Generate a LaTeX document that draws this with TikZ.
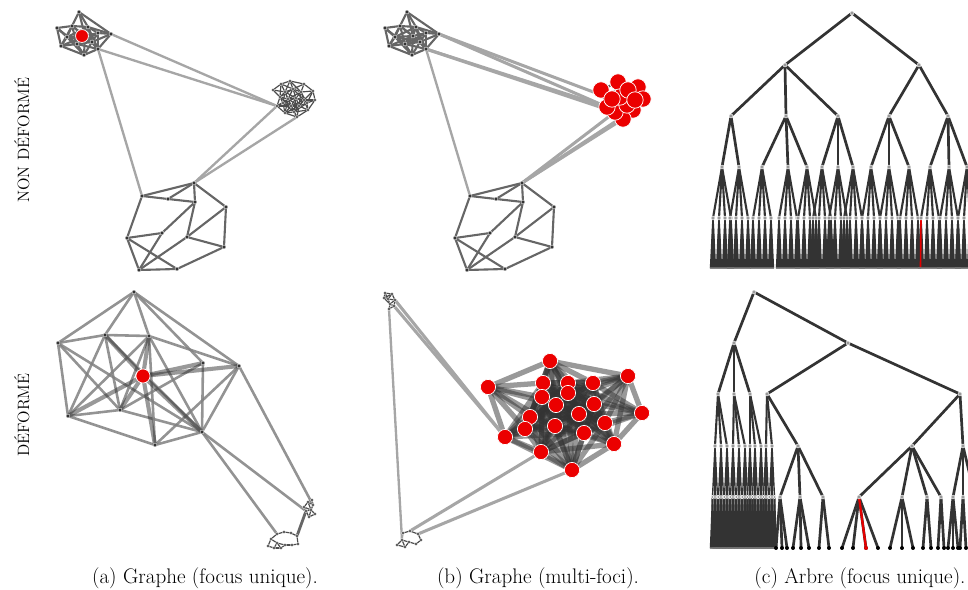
\documentclass[tikz,border=0pt]{standalone}
\usepackage{fontspec}
\usetikzlibrary{calc}

% sommets des grappes (indice/x/y, en pixels)
\def\listeA{1/79/12,2/57/28,3/61/46,4/84/55,5/98/49,6/111/34,7/72/26,8/88/27,9/98/33,10/67/37,11/77/44,12/92/42,13/85/36}
\def\listeB{1/273/90,2/281/84,3/290/81,4/304/84,5/313/91,6/315/100,7/308/110,8/297/117,9/285/113,10/277/106,11/285/92,12/293/89,13/301/92,14/288/99,15/296/98,16/304/100,17/283/103,18/291/106,19/299/106,20/307/103,21/294/112,22/280/97}
\def\listeC{1/142/196,2/168/199,3/194/183,4/195/202,5/226/207,6/162/233,7/187/237,8/127/238,9/224/247,10/139/270,11/177/269}
\def\listeD{1/134/292,2/58/343,3/105/335,4/149/336,5/203/363,6/239/366,7/143/376,8/68/416,9/120/410,10/155/445,11/202/432}
\def\listeF{1/601/90,2/618/82,3/638/87,4/643/99,5/633/110,6/623/119,7/615/112,8/607/107,9/627/105,10/620/97,11/628/90,12/612/99,13/635/100}
\def\listeEa{1/308/502,2/313/505,3/311/510,4/306/511,5/315/514,6/309/517,7/304/507,8/312/500}
\def\listeEb{1/277/534,2/284/532,3/291/533,4/297/536,5/271/539,6/277/543,7/285/545,8/292/545,9/268/546,10/281/548,11/298/544,12/274/548}
\def\listeFa{1/385/293,2/392/294,3/388/299,4/395/300,5/390/304,6/384/298,7/394/306,8/389/309}
\def\listeFb{1/403/533,2/410/531,3/418/534,4/402/540,5/409/542,6/416/544,7/405/547,8/421/540,9/397/545}
\def\listeM{1/550/361,2/488/387,3/628/376,4/543/383,5/568/383,6/593/383,7/568/393,8/542/397,9/556/405,10/594/404,11/530/417,12/579/414,13/642/413,14/525/429,15/555/426,16/605/423,17/505/437,18/584/433,19/614/444,20/541/452,21/572/470}

% relie deux sommets d'une liste quand ils sont proches
\newcommand{\relier}[4]{%
  \foreach \i/\xa/\ya in #2{%
    \foreach \j/\xb/\yb in #2{%
      \pgfmathtruncatemacro\proche{(\i<\j)&&(veclen(\xa-\xb,\ya-\yb)<#3)}%
      \ifnum\proche=1 \draw[#4] (#1\i) -- (#1\j);\fi
    }%
  }%
}

% les deux grappes communes aux graphes (a) et (b)
\newcommand{\grappesAC}{%
  \foreach \i/\x/\y in \listeA \coordinate (a\i) at (\x,\y);
  \foreach \i/\x/\y in \listeC \coordinate (c\i) at (\x,\y);
  \relier{a}{\listeA}{26}{arete}
  \draw[arete] (a1) -- (a6);
  \foreach \i/\j in {1/2,1/3,1/8,2/3,2/4,3/4,3/5,4/6,4/7,5/7,5/9,7/9,9/11,10/11,8/6,8/10,8/11,6/10,7/10}
    \draw[arete] (c\i) -- (c\j);
  \draw[pont] (a5) -- (c1);
}
\newcommand{\sommetsAC}{%
  \foreach \i/\x/\y in \listeA \node[sommet] at (a\i) {};
  \foreach \i/\x/\y in \listeC \node[sommet] at (c\i) {};
}

\begin{document}
\begin{tikzpicture}[x=0.03cm,y=-0.03cm,
  sommet/.style={circle,fill=black!80,draw=white,line width=0.3pt,inner sep=0pt,minimum size=3.4pt},
  petit/.style={sommet,minimum size=2.8pt},
  sommetgris/.style={circle,fill=black!40,draw=white,line width=0.4pt,inner sep=0pt,minimum size=3.4pt},
  feuille/.style={circle,fill=black,inner sep=0pt,minimum size=3.4pt},
  miette/.style={circle,fill=black!55,inner sep=0pt,minimum size=1.6pt},
  focus/.style={circle,fill=red!92!black,draw=white,line width=0.6pt,inner sep=0pt,minimum size=#1},
  focus/.default=12pt,
  arete/.style={black!60,line width=1.8pt},
  arete fine/.style={black!70,line width=1pt},
  pont/.style={black!35,line width=2pt},
  lien/.style={black!50,line width=2.2pt,opacity=0.85},
  lien focus/.style={black!80,line width=#1,opacity=0.5},
  branche/.style={black!80,line width=2.3pt},
  branche fine/.style={black!80,line width=1.2pt},
  titre/.style={font=\fontsize{18}{21}\selectfont},
  rangee/.style={rotate=90,font=\fontsize{14}{16}\selectfont\addfontfeature{LetterSpace=45}}]

\useasboundingbox (0,0) rectangle (968,590);

% ---------------- (a) graphe non deforme ----------------
\begin{scope}[name prefix=ga-]
\grappesAC
\foreach \i/\x/\y in \listeB \coordinate (b\i) at (\x,\y);
\relier{b}{\listeB}{16}{arete fine}
\draw[pont] (a6) -- (b10);
\draw[pont] (a5) -- (b10);
\draw[pont] (b10) -- (c3);
\draw[pont] (b8) -- (c3);
\sommetsAC
\foreach \i/\x/\y in \listeB \node[petit] at (b\i) {};
\node[focus=11pt] (a0) at (82,36) {};
\end{scope}

% ---------------- (b) graphe non deforme ----------------
\begin{scope}[name prefix=gb-,shift={(328,0)}]
\grappesAC
\end{scope}
\foreach \i/\x/\y in \listeF \coordinate (f\i) at (\x,\y);
\relier{f}{\listeF}{25}{arete}
\foreach \a/\f in {6/8,6/12,5/8,5/7} \draw[pont,line width=2.6pt] (gb-a\a) -- (f\f);
\foreach \f in {5,6,7} \draw[pont,line width=2.6pt] (gb-c3) -- (f\f);
\begin{scope}[name prefix=gb-]
\sommetsAC
\end{scope}
\foreach \i/\x/\y in \listeF \node[focus=14pt] (rf\i) at (f\i) {};

% ---------------- (a) graphe deforme ----------------
\foreach \i/\x/\y in \listeD \coordinate (d\i) at (\x,\y);
\foreach \i/\x/\y in \listeEa \coordinate (ea\i) at (\x,\y);
\foreach \i/\x/\y in \listeEb \coordinate (eb\i) at (\x,\y);
\foreach \i/\j in {1/2,1/3,1/4,1/5,1/6,2/3,2/8,2/9,2/11,3/4,3/8,3/9,3/11,4/6,4/8,4/9,4/10,4/11,5/9,5/11,6/10,6/11,8/9,8/10,9/11,10/11}
  \draw[lien] (d\i) -- (d\j);
\foreach \j in {3,4,5,6,8,9,10,11} \draw[lien focus=3.5pt] (d7) -- (d\j);
\relier{ea}{\listeEa}{9}{arete fine}
\relier{eb}{\listeEb}{9}{arete fine}
\draw[arete,line width=2.4pt] (ea4) -- (eb4);
\draw[lien] (d6) -- (ea2);
\draw[lien] (d11) -- (ea4);
\draw[lien] (d11) -- (eb1);
\foreach \i in {1,2,3,4,5,6,8,9,10,11} \node[sommet] at (d\i) {};
\foreach \i/\x/\y in \listeEa \node[petit] at (ea\i) {};
\foreach \i/\x/\y in \listeEb \node[petit] at (eb\i) {};
\node[focus=12pt] (rd) at (d7) {};

% ---------------- (b) graphe deforme ----------------
\foreach \i/\x/\y in \listeFa \coordinate (fa\i) at (\x,\y);
\foreach \i/\x/\y in \listeFb \coordinate (fb\i) at (\x,\y);
\foreach \i/\x/\y in \listeM \coordinate (m\i) at (\x,\y);
\relier{fa}{\listeFa}{9}{arete fine}
\relier{fb}{\listeFb}{9}{arete fine}
\relier{m}{\listeM}{80}{lien focus=4.5pt}
\draw[pont,line width=2.6pt] (fa4) -- (m17);
\draw[pont,line width=2.6pt] (fa7) -- (m17);
\draw[pont] (fa8) -- (fb4);
\draw[pont,line width=2.6pt] (fb2) -- (m20);
\draw[pont,line width=2.6pt] (fb3) -- (m21);
\foreach \i/\x/\y in \listeFa \node[petit] at (fa\i) {};
\foreach \i/\x/\y in \listeFb \node[petit] at (fb\i) {};
\foreach \i/\x/\y in \listeM \node[focus=13pt] (rm\i) at (m\i) {};

% ---------------- (c) arbre non deforme ----------------
\begin{scope}
\clip (690,0) rectangle (968,285);
\coordinate (h) at (852,13);
\foreach \k/\x in {1/785,2/919} {
  \coordinate (h\k) at (\x,65);
  \draw[branche] (h) -- (h\k);
}
\foreach \k/\x/\p in {1/731/1,2/786/1,3/838/1,4/889/2,5/948/2} {
  \coordinate (hh\k) at (\x,116);
  \draw[branche] (h\p) -- (hh\k);
}
\foreach \k/\x/\p in {1/722/1,2/739/1,3/762/2,4/788/2,5/807/2,6/822/3,7/838/3,8/853/3,9/871/4,10/889/4,11/909/4,12/930/5,13/949/5,14/967/5} {
  \coordinate (hhh\k) at (\x,167);
  \draw[branche] (hh\p) -- (hhh\k);
  \foreach \m/\d in {1/-9,2/-3,3/3,4/9} {
    \pgfmathsetmacro\xx{\x+\d}
    \coordinate (h4-\k-\m) at (\xx,218);
    \draw[branche,line width=1.8pt] (hhh\k) -- (h4-\k-\m);
    \foreach \n/\e in {1/-2.5,2/-1.5,3/-0.5,4/0.5,5/1.5,6/2.5} {
      \coordinate (h5-\k-\m-\n) at (\xx+\e,268);
      \draw[branche fine] (h4-\k-\m) -- (h5-\k-\m-\n);
    }
  }
}
\draw[red!90!black,line width=1.4pt] (h4-12-1) -- (h5-12-1-3);
% sommets
\foreach \k in {1,...,14} {
  \foreach \m in {1,...,4} {
    \foreach \n in {1,...,6} \node[miette] at (h5-\k-\m-\n) {};
    \node[sommetgris] at (h4-\k-\m) {};
  }
  \node[sommetgris] at (hhh\k) {};
}
\foreach \k in {1,...,5} \node[sommetgris] at (hh\k) {};
\node[sommetgris] (hroot) at (h) {};
\node[sommetgris] at (h1) {};
\node[sommetgris] at (h2) {};
\end{scope}

% ---------------- (c) arbre deforme ----------------
\begin{scope}
\clip (690,285) rectangle (968,560);
\coordinate (g) at (754,292);
\foreach \k/\x in {1/734,2/848} {
  \coordinate (g\k) at (\x,343);
  \draw[branche] (g) -- (g\k);
}
\foreach \k/\x/\p in {1/718/1,2/734/1,3/750/1,4/767/2,5/960/2} {
  \coordinate (gg\k) at (\x,394);
  \draw[branche] (g\p) -- (gg\k);
}
% partie dense a gauche
\foreach \k/\x/\p in {1/715/1,2/721/1,3/727/1,4/733/2,5/739/2,6/745/2,7/750/3,8/755/3,9/761/3,10/766/4,11/772/4} {
  \coordinate (ggg\k) at (\x,446);
  \draw[branche,line width=1.8pt] (gg\p) -- (ggg\k);
  \foreach \m/\d in {1/-2.5,2/0,3/2.5} {
    \pgfmathsetmacro\xx{\x+\d}
    \coordinate (g4-\k-\m) at (\xx,497);
    \draw[branche fine] (ggg\k) -- (g4-\k-\m);
    \foreach \n/\e in {1/-2,2/-1,3/0,4/1,5/2} {
      \coordinate (g5-\k-\m-\n) at (\xx+\e,548);
      \draw[branche fine] (g4-\k-\m) -- (g5-\k-\m-\n);
    }
  }
}
% partie clairsemee
\foreach \k/\x/\p in {12/798/4,13/912/5,14/963/5} {
  \coordinate (ggg\k) at (\x,446);
  \draw[branche] (gg\p) -- (ggg\k);
}
\foreach \k/\x/\p in {1/780/12,2/800/12,3/823/12,4/859/13,5/902/13,6/927/13,7/941/13,8/953/14,9/963/14,10/975/14} {
  \coordinate (gs\k) at (\x,497);
  \draw[branche] (ggg\p) -- (gs\k);
}
\foreach \k/\x/\p in {1/776/1,2/782/1,3/787/1,4/793/2,5/801/2,6/809/2,7/819/3,8/829/3,9/842/4,10/853/4,11/866/4,12/878/4,13/890/5,14/902/5,15/913/5,16/923/6,17/931/6,18/938/7,19/944/7,20/948/8,21/953/8,22/958/8,23/960/9,24/966/9} {
  \coordinate (gl\k) at (\x,548);
  \draw[branche] (gs\p) -- (gl\k);
}
\draw[red!90!black,line width=2pt] (gs4) -- (gl11);
% sommets
\foreach \k in {1,...,11} {
  \foreach \m in {1,2,3} {
    \foreach \n in {1,...,5} \node[miette] at (g5-\k-\m-\n) {};
    \node[sommetgris,minimum size=2.8pt] at (g4-\k-\m) {};
  }
}
\foreach \k in {1,...,14} \node[sommetgris] at (ggg\k) {};
\foreach \k in {1,...,10} \node[sommetgris] at (gs\k) {};
\foreach \k in {1,...,24} \node[feuille] at (gl\k) {};
\node[feuille,fill=red!90!black] (rouge) at (gl11) {};
\foreach \k in {1,...,5} \node[sommetgris] at (gg\k) {};
\node[sommetgris] (groot) at (g) {};
\node[sommetgris] at (g1) {};
\node[sommetgris] at (g2) {};
\end{scope}

% ---------------- legendes ----------------
\node[rangee] (nondef) at (22,140) {NON DÉFORMÉ};
\node[rangee] (def) at (22,415) {DÉFORMÉ};
\node[titre] (sousa) at (205,578) {(a) Graphe (focus unique).};
\node[titre] (sousb) at (538,578) {(b) Graphe (multi-foci).};
\node[titre] (sousc) at (860,578) {(c) Arbre (focus unique).};

\end{tikzpicture}
\end{document}
